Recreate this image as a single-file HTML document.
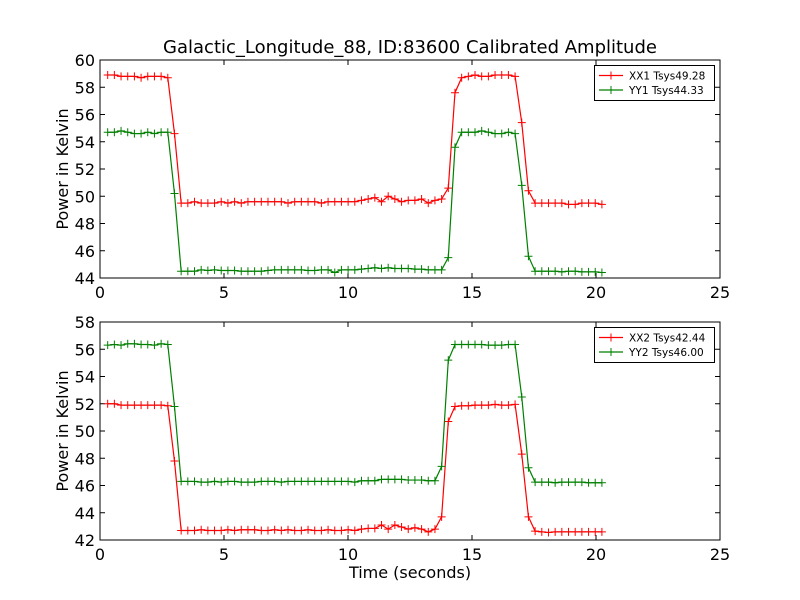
<!DOCTYPE html>
<html><head><meta charset="utf-8"><style>
body{margin:0;background:#fff;}
svg{display:block;font-family:"DejaVu Sans","Liberation Sans",sans-serif;}
</style></head><body>
<svg id="chart" width="800" height="600" xmlns="http://www.w3.org/2000/svg">
<rect width="800" height="600" fill="#fff"/>
<text x="410" y="53" text-anchor="middle" font-size="18">Galactic_Longitude_88, ID:83600 Calibrated Amplitude</text>
</svg>
<script>
const t0 = 0.31, dt = 0.2693;
const xTicks = [0,5,10,15,20,25];
const yTicksTop = [44,46,48,50,52,54,56,58,60];
const yTicksBot = [42,44,46,48,50,52,54,56,58];
const xx1 = [58.9,58.9,58.8,58.8,58.8,58.7,58.8,58.8,58.8,58.7,54.6,
49.5,49.5,49.6,49.5,49.5,49.5,49.6,49.5,49.6,49.5,49.6,49.6,49.6,49.6,49.6,49.6,49.5,49.6,49.6,49.6,49.6,49.5,49.6,49.6,49.6,49.6,49.6,49.7,49.8,
49.9,49.6,50.0,49.8,49.6,49.7,49.7,49.8,49.5,49.7,49.8,50.6,57.6,58.7,
58.8,58.9,58.8,58.8,58.9,58.9,58.9,58.8,55.4,50.4,
49.5,49.5,49.5,49.5,49.5,49.4,49.4,49.5,49.5,49.5,49.4];
const yy1 = [54.7,54.7,54.8,54.7,54.6,54.6,54.7,54.6,54.7,54.7,50.2,
44.5,44.5,44.5,44.6,44.55,44.6,44.55,44.55,44.55,44.5,44.5,44.5,44.5,44.55,44.6,44.6,44.6,44.6,44.6,44.55,44.55,44.6,44.6,44.4,44.6,44.6,44.6,44.65,44.7,
44.75,44.7,44.75,44.7,44.7,44.7,44.65,44.65,44.6,44.6,44.6,45.5,53.6,54.7,
54.7,54.7,54.8,54.7,54.6,54.6,54.7,54.6,50.8,45.6,
44.5,44.5,44.5,44.5,44.45,44.5,44.5,44.45,44.45,44.45,44.4];
const xx2 = [52.0,52.0,51.9,51.9,51.9,51.9,51.9,51.9,51.9,51.85,47.8,
42.7,42.7,42.7,42.75,42.7,42.7,42.7,42.75,42.7,42.75,42.75,42.75,42.7,42.7,42.75,42.7,42.75,42.7,42.7,42.75,42.7,42.7,42.75,42.7,42.7,42.75,42.7,42.8,42.85,
42.85,43.1,42.8,43.1,42.95,42.8,42.9,42.8,42.6,42.8,43.7,50.7,51.8,51.85,
51.85,51.9,51.9,51.9,51.95,51.9,51.9,51.95,48.3,43.7,
42.65,42.6,42.55,42.6,42.6,42.6,42.6,42.6,42.6,42.6,42.6];
const yy2 = [56.3,56.35,56.3,56.4,56.4,56.35,56.35,56.3,56.4,56.35,51.8,
46.3,46.3,46.3,46.25,46.25,46.3,46.25,46.3,46.3,46.25,46.25,46.25,46.3,46.3,46.3,46.25,46.3,46.3,46.3,46.3,46.3,46.3,46.3,46.3,46.3,46.3,46.25,46.35,46.35,
46.35,46.45,46.45,46.45,46.45,46.4,46.4,46.4,46.35,46.35,47.4,55.2,56.35,56.35,
56.35,56.35,56.35,56.3,56.3,56.3,56.35,56.35,52.5,47.3,
46.25,46.25,46.25,46.2,46.25,46.25,46.25,46.25,46.2,46.2,46.2];
const legendTop = ["XX1 Tsys49.28","YY1 Tsys44.33"];
const legendBot = ["XX2 Tsys42.44","YY2 Tsys46.00"];

const svg = document.getElementById('chart');
const NS = 'http://www.w3.org/2000/svg';
function mk(tag, attrs, parent){const e=document.createElementNS(NS,tag);for(const k in attrs)e.setAttribute(k,attrs[k]);(parent||svg).appendChild(e);return e;}

function panel(top, bottom, yMin, yMax, yTicks, s1, s2, names, legendY, label, showXLabel){
  const L=100,R=720;
  const xS=v=>L+(v-0)/(25-0)*(R-L);
  const yS=v=>bottom-(v-yMin)/(yMax-yMin)*(bottom-top);
  const g=mk('g',{});
  
  
  xTicks.forEach(v=>{
    const x=xS(v);
    mk('line',{x1:x,x2:x,y1:bottom,y2:bottom-5,stroke:'#000'},g);
    mk('line',{x1:x,x2:x,y1:top,y2:top+5,stroke:'#000'},g);
    const tx=mk('text',{x:x,y:bottom+20,'text-anchor':'middle','font-size':'16'},g);
    tx.textContent=v;
    
    
  });
  yTicks.forEach(v=>{
    const y=yS(v);
    mk('line',{x1:L,x2:L+5,y1:y,y2:y,stroke:'#000'},g);
    mk('line',{x1:R,x2:R-5,y1:y,y2:y,stroke:'#000'},g);
    const tx=mk('text',{x:L-5,y:y+6,'text-anchor':'end','font-size':'16'},g);
    tx.textContent=v;
    
    
  });
  const yl=mk('text',{x:0,y:0,'text-anchor':'middle','font-size':'16',transform:`translate(68,${(top+bottom)/2}) rotate(-90)`},g);
  yl.textContent='Power in Kelvin';
  
  
  [[s1,'#ff0000'],[s2,'#008000']].forEach(([s,c],k)=>{
    const pts=s.map((v,i)=>[xS(t0+i*dt),yS(v)]);
    const pl=mk('polyline',{points:pts.map(p=>p.join(',')).join(' '),fill:'none',stroke:c,'stroke-width':'1.2'},g);
    
    
    pts.forEach(p=>{
      mk('path',{d:`M${p[0]-4},${p[1]}H${p[0]+4}M${p[0]},${p[1]-4}V${p[1]+4}`,stroke:c,'stroke-width':'1'},g);
    });
  });
  mk('rect',{x:L,y:top,width:R-L,height:bottom-top,fill:'none',stroke:'#000','stroke-width':'1'},g);
  const lg=mk('g',{},g);
  
  
  mk('rect',{x:594.5,y:legendY,width:120,height:35,fill:'#fff',stroke:'#000','stroke-width':'1'},lg);
  names.forEach((n,k)=>{
    const c=k?'#008000':'#ff0000';
    const y=legendY+10+k*14.5;
    mk('line',{x1:599,x2:623,y1:y,y2:y,stroke:c,'stroke-width':'1.2'},lg);
    mk('path',{d:`M611,${y-4}V${y+4}M603,${y}H619`,stroke:c},lg);
    const tx=mk('text',{x:629,y:y+4,'font-size':'10.5'},lg);
    tx.textContent=n;
    
    
  });
  if(showXLabel){
    const xl=mk('text',{x:410,y:578,'text-anchor':'middle','font-size':'16'},g);
    xl.textContent='Time (seconds)';
    
    
  }
}
panel(60,278,44,60,yTicksTop,xx1,yy1,legendTop,65.5,'top',false);
panel(322,540,42,58,yTicksBot,xx2,yy2,legendBot,327.5,'bottom',true);
</script>
</body></html>
